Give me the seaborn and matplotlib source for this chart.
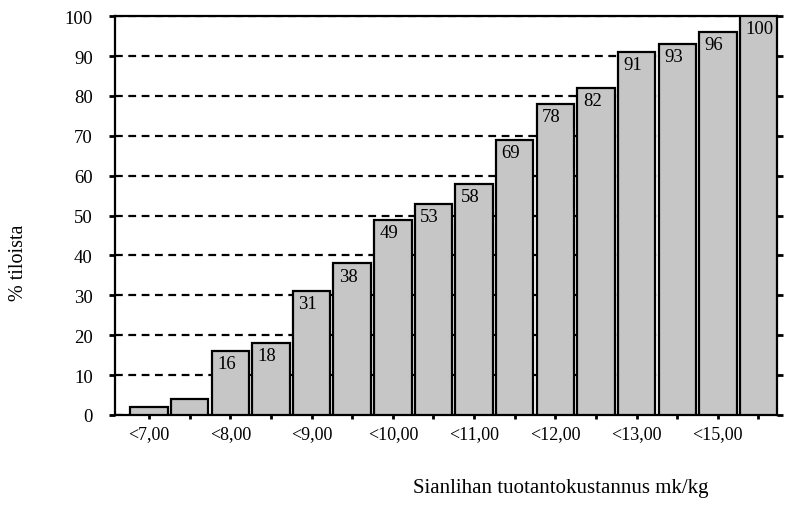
import matplotlib
matplotlib.use("Agg")
import matplotlib.pyplot as plt
import seaborn as sns
import pandas as pd

# Data
bar_ids = [str(i) for i in range(16)]
values = [2, 4, 16, 18, 31, 38, 49, 53, 58, 69, 78, 82, 91, 93, 96, 100]
value_labels = ["", "", "16", "18", "31", "38", "49", "53", "58", "69",
                "78", "82", "91", "93", "96", "100"]
tick_labels = ["<7,00", "", "<8,00", "", "<9,00", "", "<10,00", "",
               "<11,00", "", "<12,00", "", "<13,00", "", "<15,00", ""]
y_ticks = [0, 10, 20, 30, 40, 50, 60, 70, 80, 90, 100]

sns.set_theme(style="white")
plt.rcParams["font.family"] = ["Liberation Serif", "DejaVu Serif"]
plt.rcParams["text.color"] = "black"
plt.rcParams["xtick.color"] = "black"
plt.rcParams["ytick.color"] = "black"
plt.rcParams["axes.labelcolor"] = "black"

df = pd.DataFrame({"bar": bar_ids, "value": values})

fig = plt.figure(figsize=(7.87, 5.06), dpi=100)
ax = fig.add_axes([0.146, 0.178, 0.841, 0.788])

sns.barplot(data=df, x="bar", y="value", order=bar_ids, color="#c6c6c6",
            saturation=1, width=0.92, edgecolor="black", linewidth=1.6,
            ax=ax, zorder=3)

ax.set_ylim(0, 100)
ax.set_xlim(-0.84, 15.45)
ax.set_yticks(y_ticks)
ax.set_yticklabels([str(v) for v in y_ticks], fontsize=13.5, color="black")
ax.set_xticks(range(len(bar_ids)))
ax.set_xticklabels(tick_labels, fontsize=13, color="black")

# dashed horizontal grid behind bars
ax.yaxis.grid(True, linestyle=(0, (3.5, 2.5)), color="black", linewidth=1.6, zorder=0)
ax.xaxis.grid(False)
ax.set_axisbelow(True)

for side in ["left", "bottom", "top", "right"]:
    ax.spines[side].set_visible(True)
    ax.spines[side].set_color("black")
    ax.spines[side].set_linewidth(1.6)

ax.tick_params(axis="y", which="both", left=True, right=True, direction="out",
               length=4, width=2, color="black", labelright=False, pad=12)
ax.tick_params(axis="x", which="both", bottom=True, direction="out",
               length=3, width=2, color="black", pad=4)

ax.set_xlabel("")
ax.set_ylabel("")

# value labels in top-left corner of each bar
for patch, lab in zip(ax.patches, value_labels):
    if lab:
        ax.annotate(lab, xy=(patch.get_x(), patch.get_height()),
                    xytext=(4, -3), textcoords="offset points",
                    ha="left", va="top", fontsize=13.5, color="black", zorder=5)

fig.text(0.024, 0.48, "% tiloista", rotation=90, ha="center", va="center",
         fontsize=14.5, color="black")
fig.text(0.712, 0.035, "Sianlihan tuotantokustannus mk/kg", ha="center", va="center",
         fontsize=15, color="black")

fig.savefig("out.png", dpi=100)
